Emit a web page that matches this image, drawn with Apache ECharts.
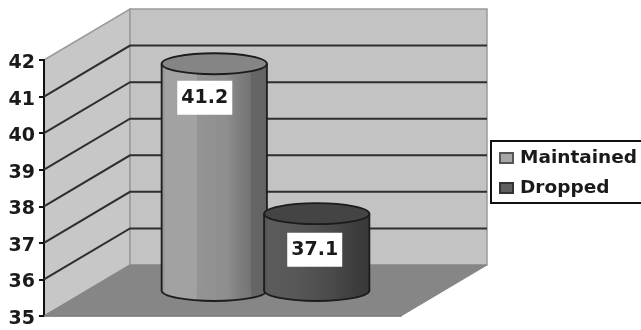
<!DOCTYPE html>
<html>
<head>
<meta charset="utf-8">
<style>html,body{margin:0;padding:0;background:#fff}#chart{width:641px;height:330px}</style>
<script src="https://cdn.jsdelivr.net/npm/echarts@6/dist/echarts.min.js"></script>
</head>
<body>
<div id="chart"></div>
<script>
// Chart values
const categories = [''];
const seriesNames = ['Maintained', 'Dropped'];
const seriesValues = [41.2, 37.1];
const axisMin = 35;
const axisMax = 42;
const gridValues = [36, 37, 38, 39, 40, 41];

// Oblique projection of the plot box, in pixels
const depthX = 86;
const depthY = 51;
const fontFamily = '"DejaVu Sans", sans-serif';

// Per-series look of the cylinders
const bodyStops = [
  [[0, '#8c8c8c'], [0.04, '#a2a2a2'], [0.33, '#a2a2a2'], [0.34, '#949494'], [0.62, '#8e8e8e'], [0.72, '#808080'], [0.84, '#757575'], [0.85, '#666666'], [1, '#636363']],
  [[0, '#505050'], [0.04, '#5c5c5c'], [0.35, '#565656'], [0.65, '#4a4a4a'], [0.85, '#3e3e3e'], [1, '#383838']]
];
const capFill = ['#858585', '#444444'];
const barOffset = [-0.1435, 0.1435];
const barWidth = 0.295;
const labelShift = [[-9.5, 34], [-2, 36]];

function renderWalls(params) {
  const g = params.coordSys;
  const x0 = g.x, x1 = g.x + g.width, yTop = g.y, yBot = g.y + g.height;
  const edge = { stroke: '#9a9a9a', lineWidth: 1.5 };
  return {
    type: 'group',
    children: [
      { type: 'polygon', shape: { points: [[x0, yBot], [x0 + depthX, yBot - depthY], [x0 + depthX, yTop - depthY], [x0, yTop]] },
        style: Object.assign({ fill: '#c7c7c7' }, edge) },
      { type: 'polygon', shape: { points: [[x0 + depthX, yBot - depthY], [x1 + depthX, yBot - depthY], [x1 + depthX, yTop - depthY], [x0 + depthX, yTop - depthY]] },
        style: Object.assign({ fill: '#c3c3c3' }, edge) },
      { type: 'polygon', shape: { points: [[x0, yBot], [x1, yBot], [x1 + depthX, yBot - depthY], [x0 + depthX, yBot - depthY]] },
        style: { fill: '#868686', stroke: '#868686', lineWidth: 1 } }
    ]
  };
}

function renderGridLine(params, api) {
  const g = params.coordSys;
  const y = api.coord([0, api.value(1)])[1];
  return {
    type: 'polyline',
    shape: { points: [[g.x, y], [g.x + depthX, y - depthY], [g.x + g.width + depthX, y - depthY]] },
    style: { fill: 'none', stroke: '#2e2e2e', lineWidth: 2 }
  };
}

function renderCylinder(params, api) {
  const i = params.seriesIndex - 2;
  const band = api.size([1, 0])[0];
  const top = api.coord([0, api.value(1)]);
  const base = api.coord([0, axisMin]);
  const cx = top[0] + barOffset[i] * band + depthX / 2;
  const yTop = top[1] - depthY / 2;
  const yBot = base[1] - depthY / 2;
  const rx = barWidth * band / 2;
  const ry = 10.5;
  const fill = new echarts.graphic.LinearGradient(0, 0, 1, 0,
    bodyStops[i].map(s => ({ offset: s[0], color: s[1] })));
  const outline = { stroke: '#1c1c1c', lineWidth: 1.8 };
  const shift = labelShift[i];
  return {
    type: 'group',
    children: [
      { type: 'ellipse', shape: { cx: cx, cy: yBot, rx: rx, ry: ry }, style: Object.assign({ fill: fill }, outline) },
      { type: 'rect', shape: { x: cx - rx, y: yTop, width: rx * 2, height: yBot - yTop }, style: { fill: fill } },
      { type: 'line', shape: { x1: cx - rx, y1: yTop, x2: cx - rx, y2: yBot }, style: outline },
      { type: 'line', shape: { x1: cx + rx, y1: yTop, x2: cx + rx, y2: yBot }, style: outline },
      { type: 'ellipse', shape: { cx: cx, cy: yTop, rx: rx, ry: ry }, style: Object.assign({ fill: capFill[i] }, outline) },
      { type: 'rect', shape: { x: cx + shift[0] - 27.5, y: yTop + shift[1] - 17, width: 55, height: 34 }, style: { fill: '#ffffff' } },
      { type: 'text', style: { x: cx + shift[0], y: yTop + shift[1], text: String(api.value(1)), align: 'center', verticalAlign: 'middle',
          fontFamily: fontFamily, fontWeight: 'bold', fontSize: 19, fill: '#1a1a1a' } }
    ]
  };
}

const chart = echarts.init(document.getElementById('chart'), null, { renderer: 'canvas' });
chart.setOption({
  animation: false,
  backgroundColor: '#ffffff',
  grid: { left: 44, top: 60, width: 357, height: 256 },
  xAxis: {
    type: 'category', data: categories,
    axisLine: { show: true, lineStyle: { color: '#808080', width: 1.5 } },
    axisTick: { show: false }, axisLabel: { show: false }
  },
  yAxis: {
    type: 'value', min: axisMin, max: axisMax, interval: 1,
    splitLine: { show: false },
    axisLine: { show: true, lineStyle: { color: '#111111', width: 2 } },
    axisTick: { show: true, length: 5, lineStyle: { color: '#111111', width: 2 } },
    axisLabel: { margin: 9, verticalAlign: 'top', lineHeight: 6, color: '#1a1a1a', fontFamily: fontFamily, fontWeight: 'bold', fontSize: 19 }
  },
  legend: {
    data: seriesNames,
    orient: 'vertical',
    left: 491, top: 141,
    padding: [7, 30, 5, 8],
    itemGap: 10,
    itemWidth: 13, itemHeight: 10,
    icon: 'rect',
    borderColor: '#111111', borderWidth: 2, backgroundColor: '#ffffff',
    textStyle: { fontFamily: fontFamily, fontWeight: 'bold', fontSize: 18.5, color: '#1a1a1a', padding: [0, 0, 0, 2], lineHeight: 20 }
  },
  series: [
    { type: 'custom', name: 'walls', coordinateSystem: 'cartesian2d', z: 0, silent: true,
      data: [[0, axisMin]], renderItem: renderWalls },
    { type: 'custom', name: 'gridlines', coordinateSystem: 'cartesian2d', z: 1, silent: true,
      data: gridValues.map(v => [0, v]), renderItem: renderGridLine },
    { type: 'custom', name: seriesNames[0], coordinateSystem: 'cartesian2d', z: 2, silent: true,
      itemStyle: { color: '#a6a6a6', borderColor: '#555555', borderWidth: 1.5 },
      data: [[0, seriesValues[0]]], renderItem: renderCylinder },
    { type: 'custom', name: seriesNames[1], coordinateSystem: 'cartesian2d', z: 3, silent: true,
      itemStyle: { color: '#5e5e5e', borderColor: '#333333', borderWidth: 1.5 },
      data: [[0, seriesValues[1]]], renderItem: renderCylinder }
  ]
});
</script>
</body>
</html>
